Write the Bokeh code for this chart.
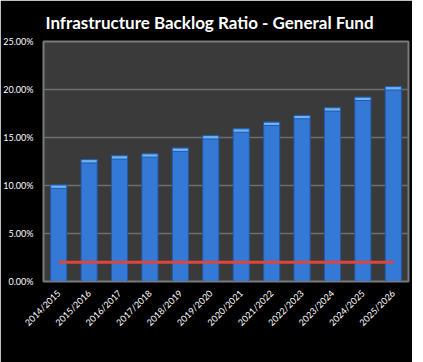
import math
from bokeh.plotting import figure
from bokeh.models import ColumnDataSource, Legend, LegendItem, PrintfTickFormatter, SingleIntervalTicker, Range1d
from bokeh.embed import file_html
from bokeh.resources import INLINE

years = ["2014/2015", "2015/2016", "2016/2017", "2017/2018", "2018/2019", "2019/2020",
         "2020/2021", "2021/2022", "2022/2023", "2023/2024", "2024/2025", "2025/2026"]
benchmark_result = [10.05, 12.7, 13.1, 13.3, 13.9, 15.2, 15.9, 16.6, 17.3, 18.1, 19.2, 20.3]
required_benchmark = [2.0] * len(years)

cap = [v - 0.35 for v in benchmark_result]
src = ColumnDataSource(dict(x=years, v=benchmark_result, r=required_benchmark, c=cap))

p = figure(x_range=years, y_range=Range1d(0, 25), frame_width=365, frame_height=240,
           output_backend="svg", toolbar_location=None,
           title="Infrastructure Backlog Ratio - General Fund",
           min_border_left=4, min_border_right=4, min_border_top=2, min_border_bottom=0)
p.background_fill_color = "#3a3a3a"
p.border_fill_color = "black"
p.outline_line_color = "#7a7a7a"
p.outline_line_width = 2

p.title.text_color = "white"
p.title.text_font = "Lato"
p.title.text_font_style = "bold"
p.title.text_font_size = "17px"
p.title.align = "left"
p.title.offset = 2
p.title.standoff = 18

bars = p.vbar(x="x", top="v", width=0.53, source=src, fill_color="#3479d6",
              line_color="#2458a8", line_width=1)
p.vbar(x="x", top="v", bottom="c", width=0.53, source=src, fill_color="#6db4f2",
       line_color="#2458a8", line_width=1)
line = p.line(x="x", y="r", source=src, line_color="#d9473f", line_width=3)

p.yaxis.ticker = SingleIntervalTicker(interval=5)
p.yaxis.formatter = PrintfTickFormatter(format="%.2f%%")
for ax in (p.xaxis, p.yaxis):
    ax.major_label_text_color = "white"
    ax.major_label_text_font = "Lato"
    ax.major_label_text_font_size = "9px"
    ax.axis_line_color = "#7a7a7a"
    ax.major_tick_line_color = None
    ax.minor_tick_line_color = None
    ax.major_label_standoff = 4
p.xaxis.major_label_orientation = math.pi / 4
p.xgrid.grid_line_color = None
p.ygrid.grid_line_color = "#6e6e6e"
p.ygrid.grid_line_width = 1.5

legend = Legend(items=[LegendItem(label="Benchmark Result", renderers=[bars]),
                       LegendItem(label="Required Benchmark", renderers=[line])],
                orientation="horizontal", location="center",
                background_fill_color="black", border_line_color=None,
                label_text_color="white", label_text_font="Lato",
                label_text_font_size="8px", glyph_width=20, glyph_height=5,
                label_height=8, label_standoff=3,
                spacing=16, padding=0, margin=2)
p.add_layout(legend, "below")

open("out.html", "w").write(file_html(p, INLINE))
